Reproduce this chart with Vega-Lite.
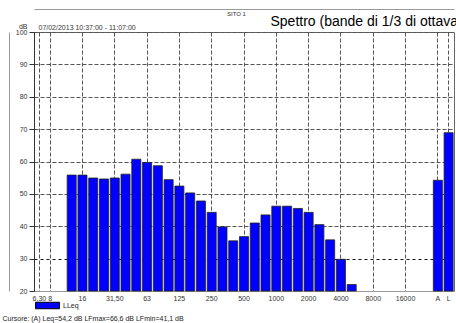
{
  "$schema": "https://vega.github.io/schema/vega-lite/v6.json",
  "autosize": "none",
  "width": 420,
  "height": 259,
  "padding": {"left": 34, "top": 32, "right": 2, "bottom": 32},
  "background": "white",
  "config": {
    "font": "Liberation Sans",
    "view": {"stroke": "#666", "strokeWidth": 1}
  },
  "datasets": {
    "spettro": [
      {"banda": "12,5", "dB": 55.8, "serie": "LLeq"},
      {"banda": "16", "dB": 55.8, "serie": "LLeq"},
      {"banda": "20", "dB": 54.9, "serie": "LLeq"},
      {"banda": "25", "dB": 54.6, "serie": "LLeq"},
      {"banda": "31,50", "dB": 54.9, "serie": "LLeq"},
      {"banda": "40", "dB": 56.1, "serie": "LLeq"},
      {"banda": "50", "dB": 60.7, "serie": "LLeq"},
      {"banda": "63", "dB": 59.7, "serie": "LLeq"},
      {"banda": "80", "dB": 58.7, "serie": "LLeq"},
      {"banda": "100", "dB": 54.4, "serie": "LLeq"},
      {"banda": "125", "dB": 52.4, "serie": "LLeq"},
      {"banda": "160", "dB": 50.3, "serie": "LLeq"},
      {"banda": "200", "dB": 47.8, "serie": "LLeq"},
      {"banda": "250", "dB": 44.3, "serie": "LLeq"},
      {"banda": "315", "dB": 39.8, "serie": "LLeq"},
      {"banda": "400", "dB": 35.5, "serie": "LLeq"},
      {"banda": "500", "dB": 36.8, "serie": "LLeq"},
      {"banda": "630", "dB": 41.0, "serie": "LLeq"},
      {"banda": "800", "dB": 43.5, "serie": "LLeq"},
      {"banda": "1000", "dB": 46.2, "serie": "LLeq"},
      {"banda": "1250", "dB": 46.2, "serie": "LLeq"},
      {"banda": "1600", "dB": 45.5, "serie": "LLeq"},
      {"banda": "2000", "dB": 44.3, "serie": "LLeq"},
      {"banda": "2500", "dB": 40.5, "serie": "LLeq"},
      {"banda": "3150", "dB": 35.8, "serie": "LLeq"},
      {"banda": "4000", "dB": 29.8, "serie": "LLeq"},
      {"banda": "5000", "dB": 22.0, "serie": "LLeq"},
      {"banda": "A", "dB": 54.2, "serie": "LLeq"},
      {"banda": "L", "dB": 68.9, "serie": "LLeq"}
    ]
  },
  "layer": [
    {
      "data": {"name": "spettro"},
      "mark": {"type": "bar", "stroke": "#222", "strokeWidth": 0.8},
      "encoding": {
        "x": {
          "field": "banda",
          "type": "nominal",
          "sort": null,
          "scale": {
            "domain": ["6,30", "8", "10", "12,5", "16", "20", "25", "31,50", "40", "50", "63", "80", "100", "125", "160", "200", "250", "315", "400", "500", "630", "800", "1000", "1250", "1600", "2000", "2500", "3150", "4000", "5000", "6300", "8000", "10000", "12500", "16000", "20000", " ", "A", "L"],
            "paddingInner": 0.16,
            "paddingOuter": 0.08
          },
          "axis": {
            "orient": "bottom",
            "values": ["6,30", "8", "16", "31,50", "63", "125", "250", "500", "1000", "2000", "4000", "8000", "16000", "A", "L"],
            "bandPosition": 0.5,
            "grid": true,
            "gridDash": [4, 2],
            "gridColor": "#555",
            "gridWidth": 1,
            "domainColor": "#999",
            "ticks": false,
            "labelAngle": 0,
            "labelFontSize": 7,
            "labelColor": "#333",
            "labelPadding": 3,
            "labelOverlap": false,
            "labelBound": false,
            "title": "Cursore: (A) Leq=54,2 dB  LFmax=66,6 dB  LFmin=41,1 dB",
            "titleFontSize": 7,
            "titleFontWeight": "normal",
            "titleColor": "#222",
            "titleAlign": "left",
            "titleBaseline": "alphabetic",
            "titleX": -32,
            "titleY": 29.5
          }
        },
        "y": {
          "field": "dB",
          "type": "quantitative",
          "scale": {"domain": [20, 100], "zero": false, "nice": false},
          "axis": {
            "orient": "left",
            "values": [20, 30, 40, 50, 60, 70, 80, 90, 100],
            "grid": true,
            "gridColor": {"condition": {"test": "datum.value === 30", "value": "#111"}, "value": "#555"},
            "gridDash": {"condition": {"test": "datum.value === 30", "value": [3, 3]}, "value": [4, 2]},
            "domainColor": "#333",
            "tickColor": "#333",
            "tickSize": 5,
            "labelFontSize": 7,
            "labelColor": "#333",
            "labelPadding": 2,
            "title": "dB",
            "titleAngle": 0,
            "titleFontSize": 7,
            "titleFontWeight": "normal",
            "titleColor": "#333",
            "titleAlign": "right",
            "titleBaseline": "alphabetic",
            "titleX": -7,
            "titleY": -3.5
          }
        },
        "y2": {"datum": 20},
        "color": {
          "field": "serie",
          "type": "nominal",
          "scale": {"range": ["#0000FF"]},
          "legend": {
            "orient": "none",
            "legendX": 1,
            "legendY": 261,
            "title": null,
            "padding": 0,
            "symbolType": "M-1,-0.27H1V0.27H-1Z",
            "symbolSize": 576,
            "symbolStrokeColor": "#000",
            "symbolStrokeWidth": 1,
            "symbolOpacity": 1,
            "labelFontSize": 7,
            "labelColor": "#222",
            "labelOffset": 3
          }
        }
      }
    },
    {
      "mark": {"type": "rule", "color": "#FF0000", "strokeWidth": 1},
      "encoding": {
        "x": {
          "datum": "A",
          "type": "nominal",
          "axis": {
            "orient": "top",
            "offset": 23,
            "domainColor": "#999",
            "ticks": false,
            "labels": false,
            "grid": false,
            "title": "Spettro (bande di 1/3 di ottava)",
            "titleFontSize": 14,
            "titleFontWeight": "normal",
            "titleColor": "#000",
            "titleAlign": "left",
            "titleBaseline": "alphabetic",
            "titleX": 236,
            "titleY": 16
          }
        },
        "y": {
          "datum": 20,
          "type": "quantitative",
          "axis": {
            "orient": "left",
            "offset": 25,
            "domainColor": "#999",
            "ticks": false,
            "labels": false,
            "grid": false,
            "title": "07/02/2013 10:37:00 - 11:07:00",
            "titleAngle": 0,
            "titleFontSize": 7,
            "titleFontWeight": "normal",
            "titleColor": "#333",
            "titleAlign": "left",
            "titleBaseline": "alphabetic",
            "titleX": 29,
            "titleY": -3
          }
        },
        "y2": {"datum": 100}
      }
    },
    {
      "mark": {"type": "rule", "color": "#999", "strokeWidth": 1},
      "encoding": {
        "y": {
          "datum": 20,
          "type": "quantitative",
          "axis": {
            "orient": "right",
            "domain": false,
            "ticks": false,
            "labels": false,
            "grid": false,
            "title": "SITO 1",
            "titleAngle": 0,
            "titleFontSize": 6,
            "titleFontWeight": "normal",
            "titleColor": "#333",
            "titleAlign": "center",
            "titleBaseline": "alphabetic",
            "titleX": -218,
            "titleY": -17
          }
        }
      }
    }
  ],
  "resolve": {"axis": {"x": "independent", "y": "independent"}}
}
